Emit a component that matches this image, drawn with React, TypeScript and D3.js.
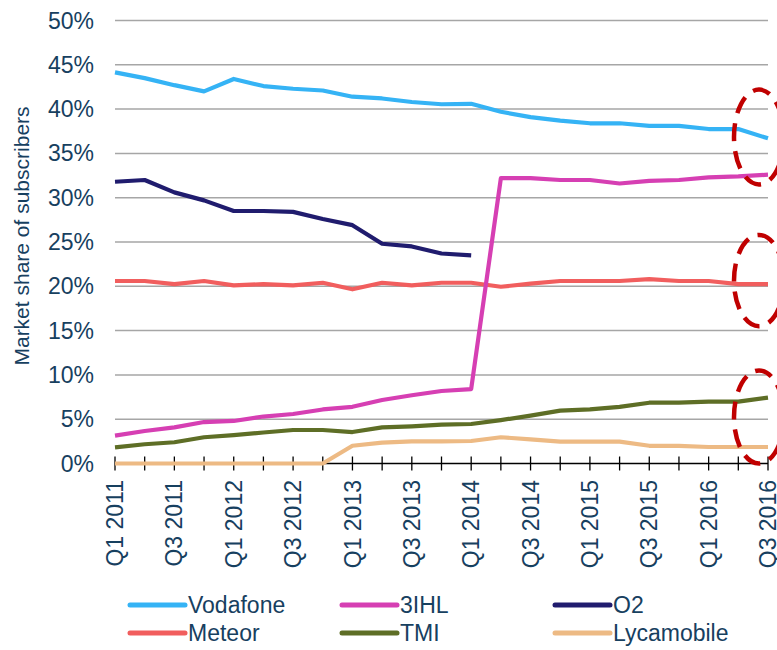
import React, { useEffect, useRef } from 'react';
import * as d3 from 'd3';

const quarters = [
  "Q1 2011", "Q2 2011", "Q3 2011", "Q4 2011",
  "Q1 2012", "Q2 2012", "Q3 2012", "Q4 2012",
  "Q1 2013", "Q2 2013", "Q3 2013", "Q4 2013",
  "Q1 2014", "Q2 2014", "Q3 2014", "Q4 2014",
  "Q1 2015", "Q2 2015", "Q3 2015", "Q4 2015",
  "Q1 2016", "Q2 2016", "Q3 2016",
];

const vodafone = [44.15, 43.5, 42.7, 42.0, 43.4, 42.6, 42.3, 42.1, 41.4, 41.2, 40.8, 40.55, 40.6, 39.7, 39.1, 38.7, 38.4, 38.4, 38.1, 38.1, 37.75, 37.75, 36.7];
const threeIHL = [3.14, 3.67, 4.08, 4.68, 4.8, 5.3, 5.59, 6.1, 6.4, 7.17, 7.7, 8.18, 8.4, 32.2, 32.2, 32.0, 32.0, 31.6, 31.9, 32.0, 32.3, 32.4, 32.6];
const o2 = [31.8, 32.0, 30.6, 29.7, 28.5, 28.5, 28.4, 27.6, 26.9, 24.8, 24.5, 23.7, 23.5, null, null, null, null, null, null, null, null, null, null];
const meteor = [20.6, 20.6, 20.25, 20.6, 20.1, 20.25, 20.1, 20.4, 19.66, 20.4, 20.1, 20.4, 20.4, 19.95, 20.3, 20.6, 20.6, 20.6, 20.8, 20.6, 20.6, 20.25, 20.25];
const tmi = [1.83, 2.17, 2.4, 2.96, 3.2, 3.5, 3.78, 3.78, 3.55, 4.08, 4.2, 4.38, 4.46, 4.9, 5.4, 5.96, 6.1, 6.4, 6.86, 6.86, 6.98, 6.98, 7.43];
const lycamobile = [0, 0, 0, 0, 0, 0, 0, 0, 2.0, 2.35, 2.5, 2.5, 2.54, 2.96, 2.73, 2.46, 2.46, 2.46, 2.0, 2.0, 1.86, 1.86, 1.86];

const yTicks = [0, 5, 10, 15, 20, 25, 30, 35, 40, 45, 50];

// highlighted last-quarter values: [low, high] in %
const highlights = [[31.5, 42.2], [15.5, 25.8], [0, 10.5]];

const series = [
  { name: "Vodafone", values: vodafone, color: "#35B3F5" },
  { name: "3IHL", values: threeIHL, color: "#D63FB3" },
  { name: "O2", values: o2, color: "#201C6E" },
  { name: "Meteor", values: meteor, color: "#F15E5E" },
  { name: "TMI", values: tmi, color: "#5E6E26" },
  { name: "Lycamobile", values: lycamobile, color: "#EDBA84" },
];

const textColor = "#17405F";
const font = "'Liberation Sans', Arial, sans-serif";

const App = () => {
  const chartRef = useRef<SVGSVGElement>(null);

  useEffect(() => {
    const width = 777;
    const height = 650;
    const left = 115;
    const right = 768;
    const top = 20.5;
    const bottom = 463.5;

    const svg = d3.select(chartRef.current);
    svg.selectAll("*").remove();
    svg.attr("width", width).attr("height", height);

    const x = d3.scalePoint<string>().domain(quarters).range([left, right]);
    const y = d3.scaleLinear().domain([0, 50]).range([bottom, top]);

    // gridlines
    svg.append("g")
      .selectAll("line")
      .data(yTicks.filter(d => d > 0))
      .enter().append("line")
      .attr("x1", left)
      .attr("x2", right)
      .attr("y1", d => y(d))
      .attr("y2", d => y(d))
      .attr("stroke", "#A6A6A6")
      .attr("stroke-width", 1.5);

    // y tick labels
    svg.append("g")
      .selectAll("text")
      .data(yTicks)
      .enter().append("text")
      .attr("x", 94)
      .attr("y", d => y(d))
      .attr("dy", "0.35em")
      .attr("text-anchor", "end")
      .attr("font-family", font)
      .attr("font-size", 23)
      .attr("fill", textColor)
      .text(d => `${d}%`);

    // y title
    svg.append("text")
      .attr("transform", `translate(22,236) rotate(-90)`)
      .attr("dy", "0.35em")
      .attr("text-anchor", "middle")
      .attr("font-family", font)
      .attr("font-size", 21)
      .attr("fill", textColor)
      .text("Market share of subscribers");

    // x axis
    const xAxis = svg.append("g");
    xAxis.append("line")
      .attr("x1", left).attr("x2", right)
      .attr("y1", bottom).attr("y2", bottom)
      .attr("stroke", "#000").attr("stroke-width", 1.3);
    xAxis.selectAll("line.tick")
      .data(quarters)
      .enter().append("line")
      .attr("class", "tick")
      .attr("x1", d => x(d)!).attr("x2", d => x(d)!)
      .attr("y1", bottom - 7).attr("y2", bottom + 7)
      .attr("stroke", "#000").attr("stroke-width", 1.3);
    xAxis.selectAll("text")
      .data(quarters.filter((d, i) => i % 2 === 0))
      .enter().append("text")
      .attr("transform", d => `translate(${x(d)},480) rotate(-90)`)
      .attr("dy", "0.35em")
      .attr("text-anchor", "end")
      .attr("font-family", font)
      .attr("font-size", 23)
      .attr("fill", textColor)
      .text(d => d);

    // lines
    const line = d3.line<number | null>()
      .defined(d => d !== null)
      .x((d, i) => x(quarters[i])!)
      .y(d => y(d as number));

    const drawOrder = [5, 4, 3, 2, 1, 0];
    svg.append("g")
      .selectAll("path")
      .data(drawOrder.map(i => series[i]))
      .enter().append("path")
      .attr("d", d => line(d.values))
      .attr("fill", "none")
      .attr("stroke", d => d.color)
      .attr("stroke-width", 4.2)
      .attr("stroke-linejoin", "round");

    // dashed ellipses around the last quarter
    const lastX = x(quarters[quarters.length - 1])!;
    svg.append("g")
      .selectAll("ellipse")
      .data(highlights)
      .enter().append("ellipse")
      .attr("cx", lastX - 9)
      .attr("cy", d => (y(d[0]) + y(d[1])) / 2)
      .attr("rx", 25)
      .attr("ry", d => (y(d[0]) - y(d[1])) / 2)
      .attr("fill", "none")
      .attr("stroke", "#C00000")
      .attr("stroke-width", 4.5)
      .attr("stroke-dasharray", "18,10");

    // legend
    const cols = [130, 342, 555];
    const rows = [605, 633];
    const legend = svg.append("g")
      .selectAll("g")
      .data(series)
      .enter().append("g")
      .attr("transform", (d, i) => `translate(${cols[i % 3]},${rows[Math.floor(i / 3)]})`);
    legend.append("line")
      .attr("x1", 0).attr("x2", 55)
      .attr("stroke", d => d.color)
      .attr("stroke-width", 5)
      .attr("stroke-linecap", "round");
    legend.append("text")
      .attr("x", 58)
      .attr("dy", "0.35em")
      .attr("font-family", font)
      .attr("font-size", 23)
      .attr("fill", textColor)
      .text(d => d.name);
  }, []);

  return (
    <svg
      ref={chartRef}
      style={{ position: 'absolute', left: 0, top: 0, background: '#fff' }}
    ></svg>
  );
};

export default App;
